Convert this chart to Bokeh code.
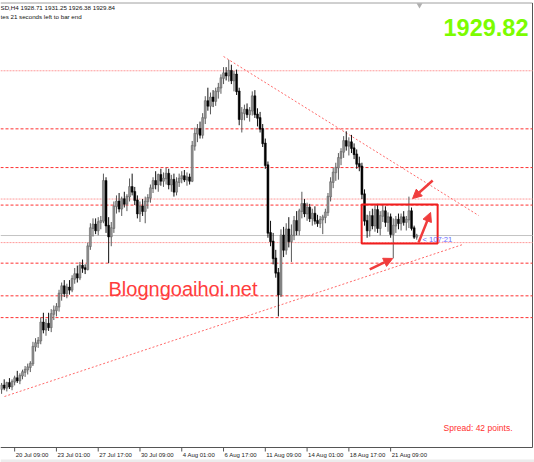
from bokeh.plotting import figure
from bokeh.models import Range1d, Label, Arrow, NormalHead, ColumnDataSource
from bokeh.embed import file_html
from bokeh.resources import INLINE

# ---------------- data (XAUUSD H4) ----------------
opens = [1803, 1806, 1804, 1808, 1805, 1809, 1812, 1810, 1814, 1817,
         1819, 1821, 1824, 1838, 1841, 1843, 1858, 1852, 1857, 1854,
         1865, 1868, 1871, 1882, 1888, 1882, 1887, 1885, 1894, 1898,
         1895, 1905, 1903, 1902, 1921, 1936, 1939, 1934, 1941, 1942,
         1975, 1938, 1929, 1936, 1954, 1958, 1952, 1960, 1956, 1962,
         1970, 1966, 1959, 1948, 1954, 1950, 1958, 1961, 1969, 1975,
         1972, 1980, 1975, 1977, 1981, 1972, 1976, 1966, 1974, 1977,
         1979, 1976, 1978, 1975, 2004, 2014, 2018, 2013, 2027, 2041,
         2037, 2044, 2041, 2049, 2052, 2060, 2064, 2062, 2066, 2058,
         2063, 2049, 2026, 2031, 2034, 2030, 2033, 2045, 2030, 2027,
         2018, 2006, 1988, 1932, 1925, 1911, 1899, 1881, 1930, 1918,
         1935, 1925, 1930, 1942, 1934, 1950, 1956, 1948, 1953, 1944,
         1948, 1942, 1940, 1943, 1945, 1949, 1962, 1974, 1982, 1986,
         1994, 1999, 2008, 2004, 2007, 2002, 1997, 1989, 1987, 1964,
         1942, 1934, 1946, 1938, 1951, 1936, 1946, 1950, 1941, 1945,
         1931, 1938, 1943, 1940, 1945, 1941, 1943, 1950, 1936, 1928.71]
highs = [1808, 1811, 1809, 1812, 1811, 1814, 1818, 1816, 1819, 1822,
         1824, 1826, 1842, 1845, 1846, 1862, 1866, 1861, 1866, 1869,
         1872, 1874, 1885, 1891, 1893, 1890, 1893, 1897, 1903, 1905,
         1908, 1910, 1906, 1924, 1940, 1944, 1944, 1945, 1946, 1981,
         1978, 1945, 1941, 1958, 1963, 1965, 1962, 1966, 1964, 1977,
         1981, 1970, 1963, 1958, 1960, 1962, 1964, 1972, 1978, 1983,
         1981, 1985, 1982, 1986, 1985, 1980, 1981, 1978, 1981, 1983,
         1984, 1982, 1981, 2008, 2019, 2022, 2024, 2031, 2045, 2052,
         2048, 2050, 2052, 2056, 2063, 2069, 2069, 2075, 2071, 2066,
         2067, 2052, 2036, 2038, 2039, 2036, 2049, 2050, 2035, 2032,
         2022, 2010, 1991, 1942, 1932, 1918, 1903, 1935, 1937, 1940,
         1945, 1939, 1946, 1950, 1952, 1966, 1960, 1957, 1956, 1952,
         1954, 1947, 1946, 1947, 1952, 1965, 1978, 1986, 1990, 1998,
         2002, 2012, 2016, 2011, 2013, 2006, 2001, 1995, 1990, 1968,
         1947, 1950, 1952, 1955, 1956, 1950, 1955, 1954, 1949, 1948,
         1944, 1946, 1948, 1948, 1950, 1946, 1962, 1953, 1938, 1931.25]
lows = [1799, 1802, 1801, 1803, 1802, 1806, 1808, 1807, 1811, 1813,
        1815, 1817, 1822, 1834, 1837, 1840, 1849, 1847, 1851, 1850,
        1860, 1863, 1867, 1876, 1879, 1878, 1881, 1883, 1890, 1891,
        1893, 1899, 1898, 1901, 1918, 1929, 1931, 1930, 1935, 1940,
        1932, 1907, 1921, 1932, 1948, 1949, 1946, 1953, 1950, 1958,
        1963, 1955, 1944, 1941, 1946, 1940, 1952, 1957, 1965, 1968,
        1966, 1971, 1970, 1972, 1968, 1966, 1962, 1963, 1970, 1973,
        1974, 1971, 1972, 1974, 2000, 2007, 2010, 2010, 2022, 2033,
        2030, 2036, 2037, 2043, 2047, 2055, 2058, 2057, 2055, 2049,
        2046, 2021, 2015, 2025, 2027, 2024, 2029, 2027, 2020, 2015,
        2003, 1985, 1928, 1921, 1906, 1895, 1863, 1879, 1912, 1914,
        1920, 1908, 1926, 1930, 1930, 1944, 1945, 1942, 1941, 1938,
        1939, 1937, 1936, 1931, 1940, 1946, 1958, 1969, 1975, 1976,
        1988, 1994, 2000, 1996, 1998, 1993, 1985, 1983, 1960, 1938,
        1928, 1929, 1935, 1933, 1932, 1930, 1941, 1937, 1933, 1928,
        1911, 1932, 1935, 1934, 1938, 1934, 1936, 1934, 1927, 1926.38]
closes = [1806, 1804, 1808, 1805, 1809, 1812, 1810, 1814, 1817, 1819,
          1821, 1824, 1838, 1841, 1843, 1858, 1852, 1857, 1854, 1865,
          1868, 1871, 1882, 1888, 1882, 1887, 1885, 1894, 1898, 1895,
          1905, 1903, 1902, 1921, 1936, 1939, 1934, 1941, 1942, 1975,
          1938, 1929, 1936, 1954, 1958, 1952, 1960, 1956, 1962, 1970,
          1966, 1959, 1948, 1954, 1950, 1958, 1961, 1969, 1975, 1972,
          1980, 1975, 1977, 1981, 1972, 1976, 1966, 1974, 1977, 1979,
          1976, 1978, 1975, 2004, 2014, 2018, 2013, 2027, 2041, 2037,
          2044, 2041, 2049, 2052, 2060, 2064, 2062, 2066, 2058, 2063,
          2049, 2026, 2031, 2034, 2030, 2033, 2045, 2030, 2027, 2018,
          2006, 1988, 1932, 1925, 1911, 1899, 1881, 1930, 1918, 1935,
          1925, 1930, 1942, 1934, 1950, 1956, 1948, 1953, 1944, 1948,
          1942, 1940, 1943, 1945, 1949, 1962, 1974, 1982, 1986, 1994,
          1999, 2008, 2004, 2007, 2002, 1997, 1989, 1987, 1964, 1942,
          1934, 1946, 1938, 1951, 1936, 1946, 1950, 1941, 1945, 1931,
          1938, 1943, 1940, 1945, 1941, 1943, 1950, 1936, 1928.71, 1929.84]

tick_bars = [5, 21, 37, 53, 69, 85, 101, 117, 133, 149]
tick_labels = ["20 Jul 09:00", "23 Jul 01:00", "27 Jul 17:00", "30 Jul 09:00",
               "4 Aug 01:00", "6 Aug 17:00", "11 Aug 09:00", "14 Aug 01:00",
               "18 Aug 17:00", "21 Aug 09:00"]

levels_light = [2066, 1960, 1924]
levels_dark = [2018, 1986, 1955, 1907, 1880, 1862]
bid_price = 1929.84
trend_down = [(85.0, 2077.8), (182.7, 1946.4)]
trend_up = [(1.1, 1796.8), (176.6, 1922.4)]
box = (137.9, 167.0, 1955.5, 1923.3)   # left bar, right bar, top price, bottom price
arrows = [((165.1, 1975.3), (157.4, 1960.4)),
          ((159.7, 1924.1), (164.3, 1948.9)),
          ((141.0, 1901.8), (149.8, 1910.9))]

# --------------- layout helpers (reference-pixel -> data units) ---------------
X0, BAR = 1.1, 2.611
PTOP, PPD = 2121.6, 1.21


def px_x(X):
    return (X - X0) / BAR


def px_y(Y):
    return PTOP - (Y - 3) / PPD


LEFT, RIGHT, TOP, AXIS_Y = px_x(0), px_x(532), px_y(2.5), px_y(447)

p = figure(width=534, height=462, output_backend="svg", toolbar_location=None,
           x_range=Range1d(px_x(0), px_x(534)), y_range=Range1d(px_y(462), px_y(0)),
           x_axis_location=None, y_axis_location=None, min_border=0)
p.outline_line_color = None
p.xgrid.visible = False
p.ygrid.visible = False
p.background_fill_color = "white"
p.border_fill_color = "white"

# window strip under the time scale
p.quad(left=[px_x(0)], right=[px_x(534)], top=[px_y(459)], bottom=[px_y(462)],
       fill_color="#ececec", line_color=None)

# chart frame: top line, right price-scale line, time axis line and its ticks
p.segment(x0=[LEFT], y0=[TOP], x1=[RIGHT], y1=[TOP], line_color="#a0a0a0", line_width=1)
p.segment(x0=[RIGHT], y0=[TOP], x1=[RIGHT], y1=[AXIS_Y], line_color="#555555", line_width=1)
p.segment(x0=[LEFT], y0=[AXIS_Y], x1=[RIGHT], y1=[AXIS_Y], line_color="#555555", line_width=1)
p.segment(x0=tick_bars, y0=[AXIS_Y] * len(tick_bars), x1=tick_bars,
          y1=[px_y(451)] * len(tick_bars), line_color="#555555", line_width=1)
for t, lab in zip(tick_bars, tick_labels):
    p.add_layout(Label(x=t, y=px_y(451), x_offset=1, text=lab, text_font="Liberation Sans",
                       text_font_size="6px", text_baseline="top", text_color="#222222"))

# horizontal levels
for lv in levels_light:
    p.segment(x0=[LEFT], y0=[lv], x1=[RIGHT], y1=[lv], line_color="#ff9a9a",
              line_dash="2 1", line_width=1)
for lv in levels_dark:
    p.segment(x0=[LEFT], y0=[lv], x1=[RIGHT], y1=[lv], line_color="#ff3030",
              line_dash="3 2", line_width=1)
p.segment(x0=[LEFT], y0=[bid_price], x1=[RIGHT], y1=[bid_price], line_color="#c4c4c4", line_width=1)

# trend lines
for tl in (trend_down, trend_up):
    p.line([tl[0][0], tl[1][0]], [tl[0][1], tl[1][1]], line_color="#ff6a6a",
           line_dash="2 2", line_width=1)

# candles
xs = list(range(len(closes)))
up = [c >= o for o, c in zip(opens, closes)]
src = ColumnDataSource(dict(
    x=xs, o=opens, h=highs, l=lows, c=closes,
    top=[max(o, c) + 0.3 for o, c in zip(opens, closes)],
    bot=[min(o, c) - 0.3 for o, c in zip(opens, closes)],
    wick=["#5a5a5a" if u else "#111111" for u in up],
    body=["#929292" if u else "#000000" for u in up],
    edge=["#5a5a5a" if u else "#000000" for u in up],
))
p.segment(x0="x", y0="h", x1="x", y1="l", source=src, line_color="wick", line_width=1)
p.vbar(x="x", width=0.75, top="top", bottom="bot", source=src,
       fill_color="body", line_color="edge", line_width=0.5)

# box and arrows
p.quad(left=box[0], right=box[1], top=box[2], bottom=box[3], fill_color=None,
       line_color="#f01e1e", line_width=2)
for (xs0, ys0), (xe, ye) in arrows:
    p.add_layout(Arrow(end=NormalHead(size=9, fill_color="#f03c3c", line_color="#f03c3c"),
                       x_start=xs0, y_start=ys0, x_end=xe, y_end=ye,
                       line_color="#f03c3c", line_width=2.5))

# chart-shift marker
p.scatter([px_x(419)], [px_y(4.5)], marker="inverted_triangle", size=6,
          fill_color="#b0b0b0", line_color=None)

# texts
font = "Liberation Sans"
p.add_layout(Label(x=px_x(0), y=px_y(3.5), text="SD,H4  1928.71 1931.25 1926.38 1929.84",
                   text_font=font, text_font_size="6.2px", text_baseline="top", text_color="#111111"))
p.add_layout(Label(x=px_x(0), y=px_y(12), text="tes 21 seconds left to bar end",
                   text_font=font, text_font_size="6.2px", text_baseline="top", text_color="#111111"))
p.add_layout(Label(x=px_x(528), y=px_y(27), text="1929.82", text_font=font,
                   text_font_size="23.5px", text_font_style="bold", text_align="right",
                   text_baseline="alphabetic", text_color="#7cfc00"))
p.add_layout(Label(x=px_x(108), y=px_y(288), text="Blogngoaihoi.net", text_font=font,
                   text_font_size="20px", text_baseline="alphabetic", text_color="#ff3c3c"))
p.add_layout(Label(x=px_x(443), y=px_y(427), text="Spread: 42 points.", text_font=font,
                   text_font_size="8.5px", text_baseline="alphabetic", text_color="#ff3030"))
p.add_layout(Label(x=px_x(422), y=px_y(239), text="< 107:21", text_font=font,
                   text_font_size="7.6px", text_baseline="middle", text_color="#6a6aff"))

open("out.html", "w").write(file_html(p, INLINE))
